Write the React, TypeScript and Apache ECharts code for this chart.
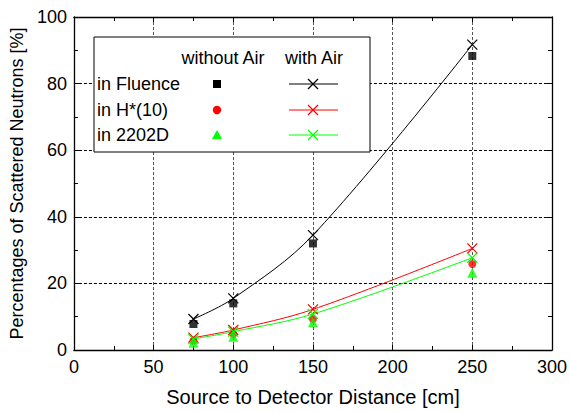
import React, { useEffect, useRef } from "react";
import * as echarts from "echarts";

const distances = [75, 100, 150, 250];
const fluenceNoAir = [7.8, 14.0, 32.0, 88.3];
const fluenceAir = [9.3, 15.5, 34.5, 91.7];
const hNoAir = [2.8, 4.8, 9.3, 25.8];
const hAir = [3.7, 6.0, 12.2, 30.5];
const d2202NoAir = [2.2, 4.0, 8.3, 23.2];
const d2202Air = [3.3, 5.5, 10.8, 27.7];

const rowLabels = ["in Fluence", "in H*(10)", "in 2202D"];
const colLabels = ["without Air", "with Air"];

const FONT = "Liberation Sans, Arial, sans-serif";
const BLACK = "#000000";
const RED = "#ff0000";
const GREEN = "#00ff00";
const X_PATH = "path://M0,0L10,10M10,0L0,10";

const pairs = (ys: number[]) => distances.map((x, i) => [x, ys[i]]);

export default function App() {
  const ref = useRef<HTMLDivElement>(null);
  useEffect(() => {
    if (!ref.current) return;
    const chart = echarts.init(ref.current, null, { renderer: "svg" });

    const axisCommon = {
      type: "value" as const,
      axisLine: { show: true, onZero: false, lineStyle: { color: BLACK, width: 1.3 } },
      axisTick: { show: true, inside: true, length: 5, lineStyle: { color: BLACK, width: 1 } },
      minorTick: { show: true, splitNumber: 2, length: 4, lineStyle: { color: BLACK, width: 1 } },
    };

    const scatter = (name: string, data: number[], symbol: string, size: number, color: string) => ({
      name,
      type: "scatter",
      data: pairs(data),
      symbol,
      symbolSize: size,
      itemStyle: { color },
      z: 3,
    });
    const fitLine = (name: string, data: number[], color: string) => ({
      name,
      type: "line",
      data: pairs(data),
      smooth: 0.35,
      symbol: X_PATH,
      symbolSize: 10,
      showSymbol: true,
      lineStyle: { color, width: 1 },
      itemStyle: { color, borderColor: color, borderWidth: 1.2 },
      z: 4,
    });

    const rowY = [84, 110, 135];
    const rowColors = [BLACK, RED, GREEN];
    const legendEls: any[] = [
      {
        type: "rect",
        shape: { x: 94, y: 37, width: 276, height: 115 },
        style: { fill: "#ffffff", stroke: BLACK, lineWidth: 1 },
        z: 10,
      },
      {
        type: "text",
        x: 223,
        y: 58,
        style: { text: colLabels[0], font: `18px ${FONT}`, fill: BLACK, align: "center", verticalAlign: "middle" },
        z: 11,
      },
      {
        type: "text",
        x: 314,
        y: 58,
        style: { text: colLabels[1], font: `18px ${FONT}`, fill: BLACK, align: "center", verticalAlign: "middle" },
        z: 11,
      },
    ];
    rowLabels.forEach((t, i) => {
      const y = rowY[i];
      const c = rowColors[i];
      legendEls.push({
        type: "text",
        x: 97,
        y,
        style: { text: t, font: `18px ${FONT}`, fill: BLACK, align: "left", verticalAlign: "middle" },
        z: 11,
      });
      if (i === 0) {
        legendEls.push({ type: "rect", shape: { x: 213, y: y - 4, width: 8, height: 8 }, style: { fill: c }, z: 11 });
      } else if (i === 1) {
        legendEls.push({ type: "circle", shape: { cx: 217, cy: y, r: 4.2 }, style: { fill: c }, z: 11 });
      } else {
        legendEls.push({
          type: "polygon",
          shape: { points: [[217, y - 5], [222, y + 4], [212, y + 4]] },
          style: { fill: c },
          z: 11,
        });
      }
      legendEls.push({ type: "line", shape: { x1: 289, y1: y, x2: 338, y2: y }, style: { stroke: c, lineWidth: 1 }, z: 11 });
      legendEls.push({ type: "line", shape: { x1: 308, y1: y - 5, x2: 318, y2: y + 5 }, style: { stroke: c, lineWidth: 1.2 }, z: 11 });
      legendEls.push({ type: "line", shape: { x1: 318, y1: y - 5, x2: 308, y2: y + 5 }, style: { stroke: c, lineWidth: 1.2 }, z: 11 });
    });

    chart.setOption({
      animation: false,
      backgroundColor: "#ffffff",
      grid: { left: 70, right: 15, top: 17, bottom: 59, containLabel: false },
      xAxis: [
        {
          ...axisCommon,
          position: "bottom",
          min: 0,
          max: 300,
          interval: 50,
          axisLabel: { show: true, fontSize: 18, fontFamily: FONT, color: BLACK, margin: 8 },
          splitLine: { show: true, lineStyle: { color: "#555555", width: 1, type: [3, 2] } },
          name: "Source to Detector Distance [cm]",
          nameLocation: "middle",
          nameGap: 37,
          nameTextStyle: { fontSize: 20, fontFamily: FONT, color: BLACK },
        },
        {
          ...axisCommon,
          position: "top",
          min: 0,
          max: 300,
          interval: 50,
          axisLabel: { show: false },
          splitLine: { show: false },
        },
      ],
      yAxis: [
        {
          ...axisCommon,
          position: "left",
          min: 0,
          max: 100,
          interval: 20,
          axisLabel: { show: true, fontSize: 18, fontFamily: FONT, color: BLACK, margin: 7 },
          splitLine: { show: true, lineStyle: { color: BLACK, width: 1, type: [3, 2] } },
          name: "Percentages of Scattered Neutrons [%]",
          nameLocation: "middle",
          nameGap: 35,
          nameRotate: 90,
          nameTextStyle: { fontSize: 18, fontFamily: FONT, color: BLACK },
        },
        {
          ...axisCommon,
          position: "right",
          min: 0,
          max: 100,
          interval: 20,
          axisLabel: { show: false },
          splitLine: { show: false },
        },
      ],
      series: [
        scatter("Fluence without Air", fluenceNoAir, "rect", 8, BLACK),
        scatter("H*(10) without Air", hNoAir, "circle", 8, RED),
        scatter("2202D without Air", d2202NoAir, "triangle", 10, GREEN),
        fitLine("Fluence with Air", fluenceAir, BLACK),
        fitLine("H*(10) with Air", hAir, RED),
        fitLine("2202D with Air", d2202Air, GREEN),
      ],
      graphic: legendEls,
    });
    return () => chart.dispose();
  }, []);
  return <div ref={ref} style={{ width: 570, height: 412, position: "absolute", left: 0, top: 0 }} />;
}
